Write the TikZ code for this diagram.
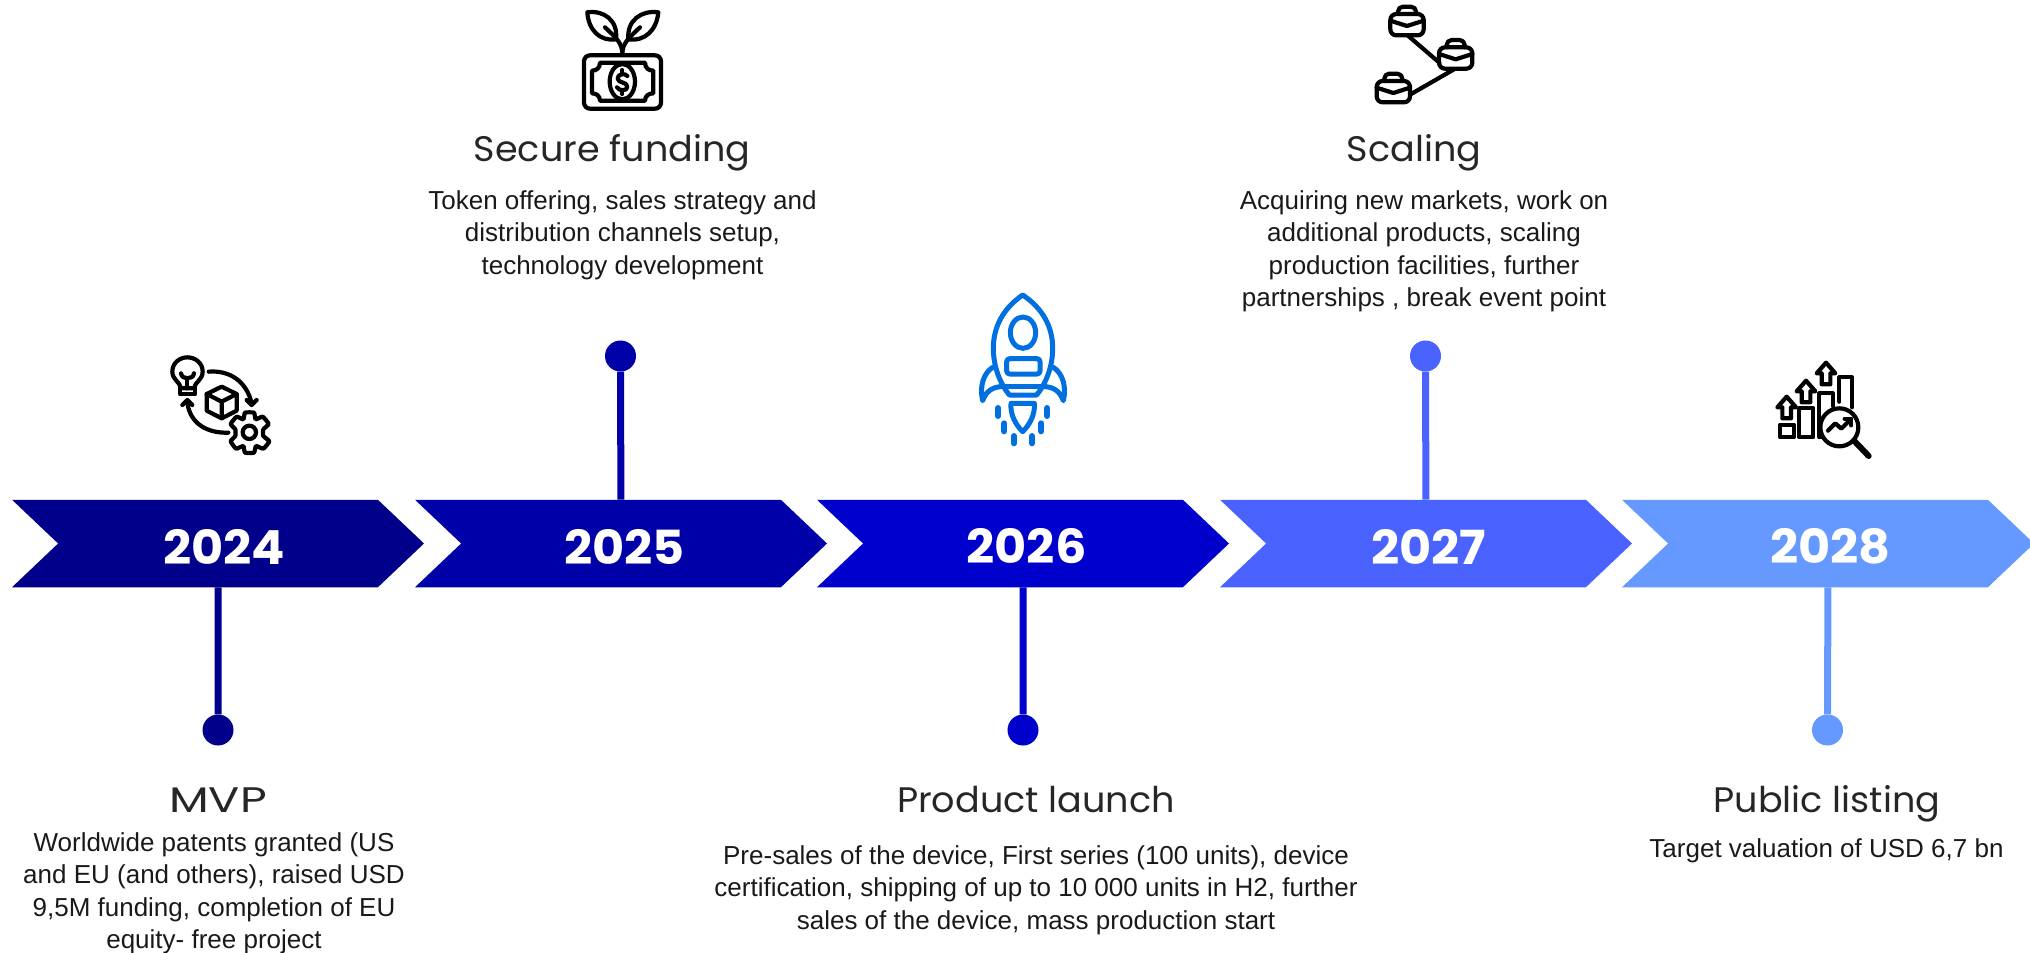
\documentclass[tikz,border=0pt]{standalone}
\usepackage{fontspec}
\setmainfont{Liberation Sans}
\newfontfamily\headfont[FakeStretch=1.03]{Poppins}
\newfontfamily\headwide[FakeStretch=1.3]{Poppins}
\newfontfamily\yearfont[FakeStretch=1.05]{Poppins}
\usetikzlibrary{shapes.symbols}
\definecolor{c1}{HTML}{00008B}
\definecolor{c2}{HTML}{0000A8}
\definecolor{c3}{HTML}{0000CC}
\definecolor{c4}{HTML}{4A63FF}
\definecolor{c5}{HTML}{6699FF}
\definecolor{rocket}{HTML}{0070E0}
\newcommand\yr[2]{\hspace*{#1pt}\raisebox{-3pt}[\height][\depth]{#2}}
\tikzset{
  chev/.style={signal,signal to=east,signal from=west,signal pointer angle=87,draw=none,inner sep=0pt,minimum width=412pt,minimum height=87.5pt,text=white,font=\yearfont\fontsize{47}{47}\selectfont\bfseries},
  stem/.style={line width=7pt},
  dot/.style={circle,inner sep=0pt,minimum size=31pt},
  ttl/.style={font=\headfont\fontsize{35.5}{40}\selectfont,text=black!85,anchor=center},
  body/.style={font=\fontsize{26}{32.4}\selectfont,align=center,text=black!90,anchor=north},
  ic/.style={line width=4.2pt,line cap=round,line join=round,black},
  icb/.style={line width=5pt,line cap=round,line join=round,rocket},
}
\begin{document}
\begin{tikzpicture}[x=1pt,y=-1pt]
\useasboundingbox (0,0) rectangle (2030,953);
% chevrons
\node[chev,fill=c1] (y24) at (218,543.5) {\yr{12}{2024}};
\node[chev,fill=c2] (y25) at (621,543.5) {\yr{7}{2025}};
\node[chev,fill=c3] (y26) at (1023,543.5) {\yr{7}{2026}};
\node[chev,fill=c4] (y27) at (1426,543.5) {\yr{5}{2027}};
\node[chev,fill=c5] (y28) at (1828,543.5) {\yr{5}{2028}};
% dots
\node[dot,fill=c1] (d24) at (218,730) {};
\node[dot,fill=c2] (d25) at (620.5,356) {};
\node[dot,fill=c3] (d26) at (1023,730) {};
\node[dot,fill=c4] (d27) at (1425.5,356) {};
\node[dot,fill=c5] (d28) at (1827.5,730) {};
\draw[stem,c1] (y24) -- (d24);
\draw[stem,c2] (y25) -- (d25);
\draw[stem,c3] (y26) -- (d26);
\draw[stem,c4] (y27) -- (d27);
\draw[stem,c5] (y28) -- (d28);
% titles and texts
\node[ttl] (t1) at (218,800) {{\headwide MVP}};
\node[body] (b1) at (214,829) {Worldwide patents granted (US\\and EU (and others), raised USD\\9,5M funding, completion of EU\\equity- free project};
\node[ttl] (t2) at (612,153) {Secure funding};
\node[body] (b2) at (622.5,187) {Token offering, sales strategy and\\distribution channels setup,\\technology development};
\node[ttl] (t3) at (1036,800) {Product launch};
\node[body] (b3) at (1036,842) {Pre-sales of the device, First series (100 units), device\\certification, shipping of up to 10 000 units in H2, further\\sales of the device, mass production start};
\node[ttl] (t4) at (1414,153) {Scaling};
\node[body] (b4) at (1424,187) {Acquiring new markets, work on\\additional products, scaling\\production facilities, further\\partnerships , break event point};
\node[ttl] (t5) at (1827,804) {Public listing};
\node[body] (b5) at (1826.5,835) {Target valuation of USD 6,7 bn};
% icon 2024
\begin{scope}[shift={(130,320)},scale=1/3,ic]
 \draw (153,205) .. controls (150,185) and (127,180) .. (127,155) .. controls (127,128) and (150,112) .. (172,112) .. controls (195,112) and (218,128) .. (218,155) .. controls (218,180) and (195,185) .. (192,205) -- cycle;
 \draw (150,205) -- (150,223) -- (195,223) -- (195,205);
 \draw (153,160) .. controls (155,180) and (190,180) .. (192,160);
 \draw (172,175) -- (172,205);
 \draw (275,200) -- (320,222) -- (320,272) -- (275,295) -- (230,272) -- (230,222) -- cycle;
 \draw (230,222) -- (275,245) -- (320,222) (275,245) -- (275,295);
 \draw (236,155) .. controls (300,150) and (350,185) .. (365,250);
 \draw (350,240) -- (365,255) -- (380,240);
 \draw (295,338) .. controls (230,340) and (180,310) .. (172,248);
 \draw (157,255) -- (172,240) -- (187,255);
 \draw plot[smooth cycle,tension=0.25] coordinates {(345,278)(372,278)(377,298)(398,290)(416,312)(400,328)(400,348)(418,364)(400,386)(378,378)(372,398)(345,398)(340,378)(318,386)(302,364)(316,348)(316,328)(302,312)(320,290)(340,298)};
 \draw (358,337) circle (20);
\end{scope}
% icon 2025
\begin{scope}[shift={(550,0)},scale=1/3,ic]
 \draw[rounded corners=6pt] (102,166) rectangle (333,326);
 \draw (150,188) -- (285,188) .. controls (285,205) and (297,212) .. (310,212) -- (310,280) .. controls (297,280) and (285,287) .. (285,302) -- (150,302) .. controls (150,287) and (138,280) .. (126,280) -- (126,212) .. controls (138,212) and (150,205) .. (150,188) -- cycle;
 \draw (217,245) ellipse (38 and 53);
 \draw (232,228) .. controls (225,218) and (202,222) .. (203,236) .. controls (204,250) and (232,245) .. (232,260) .. controls (232,274) and (208,274) .. (201,262);
 \draw (217,210) -- (217,220) (217,272) -- (217,282);
 \draw (217,162) .. controls (217,130) and (200,115) .. (165,82);
 \draw (217,162) .. controls (217,130) and (235,115) .. (270,82);
 \draw (112,37) .. controls (160,30) and (205,60) .. (198,118) .. controls (150,125) and (115,90) .. (112,37) -- cycle;
 \draw (325,37) .. controls (275,30) and (230,60) .. (235,118) .. controls (285,125) and (320,90) .. (325,37) -- cycle;
\end{scope}
% icon 2026
\begin{scope}[shift={(950,280)},scale=1/3,icb]
 \draw (218,45) .. controls (160,85) and (130,140) .. (130,205) .. controls (130,260) and (150,310) .. (178,345) -- (260,345) .. controls (288,310) and (308,260) .. (308,205) .. controls (308,140) and (278,85) .. (218,45) -- cycle;
 \draw (219,158) ellipse (38 and 47);
 \draw[rounded corners=3pt] (170,236) rectangle (270,282);
 \draw (152,318) -- (286,318);
 \draw (128,262) .. controls (100,280) and (88,320) .. (98,362) .. controls (108,335) and (125,322) .. (152,320);
 \draw (310,262) .. controls (338,280) and (350,320) .. (340,362) .. controls (330,335) and (313,322) .. (286,320);
 \draw (183,370) .. controls (180,405) and (198,435) .. (218,455) .. controls (238,435) and (256,405) .. (253,370) -- cycle;
 \draw[line width=6pt] (144,384) -- (144,408) (292,384) -- (292,408) (163,430) -- (163,454) (274,430) -- (274,454) (192,468) -- (192,490) (246,468) -- (246,490);
\end{scope}
% icon 2027
\begin{scope}[shift={(1350,0)},scale=1/3,ic]
 \foreach \cx/\cy in {171/62,317/162,130/263}{
  \begin{scope}[shift={(\cx,\cy)}]
   \draw[rounded corners=6pt] (-50,-20) rectangle (50,44);
   \draw[rounded corners=5pt] (-27,-20) -- (-27,-42) -- (27,-42) -- (27,-20);
   \draw (-50,0) -- (0,16) -- (50,0);
  \end{scope}
 }
 \draw (175,108) -- (268,188);
 \draw (180,284) -- (312,208);
\end{scope}
% icon 2028
\begin{scope}[shift={(1760,350)},scale=1/3,ic]
 \draw (60,224) rectangle (102,262);
 \draw (118,174) rectangle (160,262);
 \draw (178,212) -- (178,130) -- (218,130) -- (218,168);
 \draw (238,155) -- (238,82) -- (276,82) -- (276,172);
 \draw (178,212) -- (178,262) -- (186,262);
 \foreach \ax/\ay in {80/140,138/92,198/38}{
  \draw (\ax-13,\ay+65) -- (\ax-13,\ay+32) -- (\ax-28,\ay+32) -- (\ax,\ay) -- (\ax+28,\ay+32) -- (\ax+13,\ay+32) -- (\ax+13,\ay+65) -- cycle;
 }
 \draw (238,232) circle (57);
 \draw (204,242) -- (226,220) -- (244,236) -- (272,208);
 \draw (254,206) -- (274,206) -- (274,226);
 \draw[line width=6pt] (282,272) -- (326,318);
\end{scope}
\end{tikzpicture}
\end{document}
